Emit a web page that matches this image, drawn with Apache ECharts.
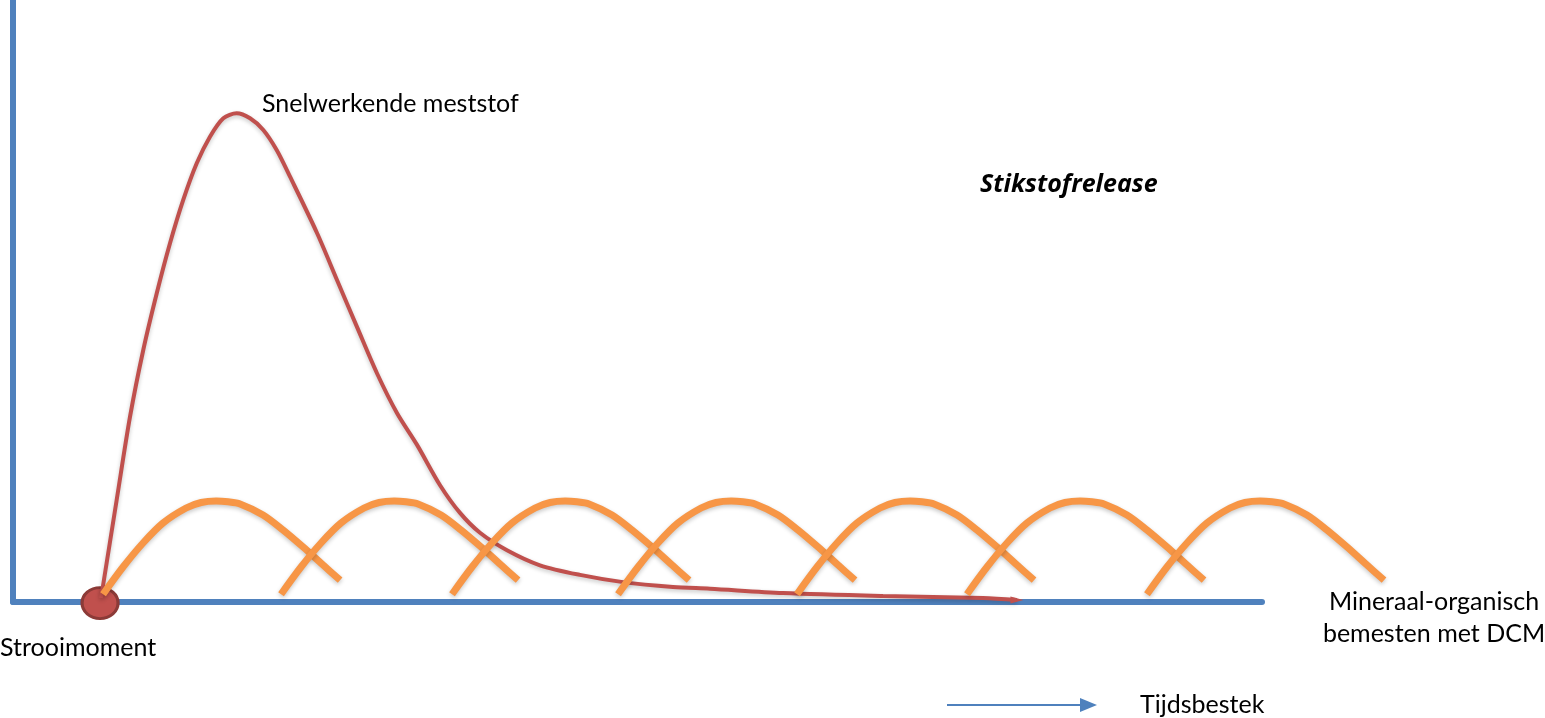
<!DOCTYPE html>
<html><head><meta charset="utf-8">
<script src="https://cdn.jsdelivr.net/npm/echarts/dist/echarts.min.js"></script>
<style>html,body{margin:0;padding:0;background:#fff}#c{width:1545px;height:718px}</style>
</head><body><div id="c"></div>
<script>
// Snelwerkende meststof: release curve (time units, release units)
const fastX = [7.05, 8.30, 9.37, 10.43, 11.51, 12.57, 13.63, 14.71, 15.77, 16.84, 17.91, 18.98, 20.04, 21.11, 22.18, 24.34, 25.94, 27.54, 29.14, 30.74, 32.35, 34.19, 35.79, 37.39, 39.55, 42.19, 45.4, 48.84, 52.84, 55.8, 61.65, 69.66, 77.66, 80.38];
const fastY = [0.66, 16.94, 30.78, 41.86, 51.28, 59.58, 66.78, 72.87, 77.29, 80.35, 81.18, 80.35, 78.41, 75.08, 70.65, 61.3, 53.5, 45.7, 38.0, 31.4, 26.1, 19.4, 14.8, 11.5, 8.6, 6.1, 4.5, 3.3, 2.5, 2.2, 1.5, 1.0, 0.66, 0.33];
// Mineraal-organisch (DCM): one release wave, repeated at each application
const waveDX = [0, 1.60, 3.20, 4.80, 6.65, 7.85, 9.05, 10.01, 10.97, 12.81, 14.41, 16.01, 17.61, 18.98];
const waveY = [1.3, 5.81, 9.80, 13.12, 15.61, 16.53, 16.78, 16.64, 16.28, 14.45, 11.96, 9.14, 6.15, 3.65];
const waveStarts = [7.21, 21.46, 35.15, 48.44, 62.77, 76.38, 90.79];
const strooiMoment = [6.97, -0.17];

const AXIS = '#4f81bd', RED = '#c0504d', ORANGE = '#f79646';
const FONT = 'Lato, "Open Sans", sans-serif';
const X_MAX = 100, X_EXT = 112;   // axis length, and room for the last wave
const GRID_L = 13, GRID_W = 1249;

const fastData = fastX.map((x, i) => {
  const item = { value: [x, fastY[i]] };
  if (i === fastX.length - 1) {
    item.symbol = 'triangle'; item.symbolSize = [7, 13]; item.symbolRotate = -90;
    item.itemStyle = { color: RED };
  }
  return item;
});

const shadow = { shadowColor: 'rgba(0,0,0,0.22)', shadowBlur: 4, shadowOffsetY: 2 };

const waveSeries = waveStarts.map(s => ({
  type: 'line', xAxisIndex: 1, yAxisIndex: 1, smooth: 0.3, clip: false, symbol: 'none', silent: true,
  data: waveDX.map((d, i) => [s + d, waveY[i]]),
  lineStyle: Object.assign({ color: ORANGE, width: 7, cap: 'butt' }, shadow)
}));

const visAxis = (extra) => Object.assign({
  type: 'value', min: 0, max: 100,
  axisLine: { show: true, onZero: false, lineStyle: { color: AXIS, width: 6 } },
  axisTick: { show: false }, axisLabel: { show: false }, splitLine: { show: false }
}, extra);

const chart = echarts.init(document.getElementById('c'), null, { renderer: 'canvas' });
chart.setOption({
  animation: false,
  backgroundColor: '#fff',
  grid: [
    { left: GRID_L, width: GRID_W, top: 0, bottom: 116 },
    { left: GRID_L, width: GRID_W * X_EXT / X_MAX, top: 0, bottom: 116 }
  ],
  xAxis: [
    visAxis({ gridIndex: 0, max: X_MAX }),
    { type: 'value', gridIndex: 1, min: 0, max: X_EXT, show: false }
  ],
  yAxis: [
    visAxis({ gridIndex: 0 }),
    { type: 'value', gridIndex: 1, min: 0, max: 100, show: false }
  ],
  series: [
    { type: 'scatter', xAxisIndex: 1, yAxisIndex: 1, clip: false, data: [strooiMoment], symbolSize: [36, 31], silent: true,
      itemStyle: { color: RED, borderColor: '#8c3a37', borderWidth: 3, opacity: 1 } },
    { type: 'line', xAxisIndex: 1, yAxisIndex: 1, smooth: 0.3, clip: false, symbol: 'none', showSymbol: true, silent: true,
      data: fastData,
      lineStyle: Object.assign({ color: RED, width: 4 }, shadow) },
    ...waveSeries
  ],
  graphic: [
    { type: 'text', x: 262, y: 104, style: { text: 'Snelwerkende meststof', font: '25px ' + FONT, fill: '#000', verticalAlign: 'middle' } },
    { type: 'text', x: 980, y: 185, style: { text: 'Stikstofrelease', font: 'italic bold 25px "Open Sans", sans-serif', fill: '#000', verticalAlign: 'middle' } },
    { type: 'text', x: 0, y: 648, style: { text: 'Strooimoment', font: '25px ' + FONT, fill: '#000', verticalAlign: 'middle' } },
    { type: 'text', x: 1434, y: 602, style: { text: 'Mineraal-organisch', font: '25px ' + FONT, fill: '#000', align: 'center', verticalAlign: 'middle' } },
    { type: 'text', x: 1434, y: 634, style: { text: 'bemesten met DCM', font: '25px ' + FONT, fill: '#000', align: 'center', verticalAlign: 'middle' } },
    { type: 'text', x: 1140, y: 705, style: { text: 'Tijdsbestek', font: '25px ' + FONT, fill: '#000', verticalAlign: 'middle' } },
    { type: 'line', shape: { x1: 947, y1: 705, x2: 1082, y2: 705 }, style: { stroke: AXIS, lineWidth: 2 } },
    { type: 'polygon', shape: { points: [[1080, 698], [1097, 705], [1080, 712]] }, style: { fill: AXIS } }
  ]
});
</script>
</body></html>
